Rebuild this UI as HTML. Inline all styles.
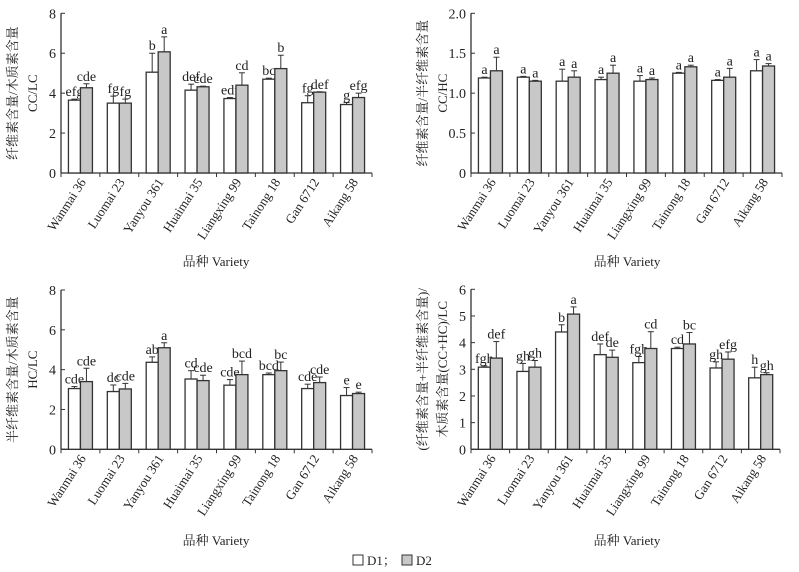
<!DOCTYPE html>
<html><head><meta charset="utf-8"><style>
html,body{margin:0;padding:0;background:#fff}
svg{display:block;font-family:"Liberation Serif","Noto Serif CJK SC","Noto Sans CJK SC",serif}
</style></head><body>
<svg id="fig" width="799" height="572" viewBox="0 0 799 572" xmlns="http://www.w3.org/2000/svg">
<text x="216" y="266" font-size="13" text-anchor="middle" fill="#222">品种 Variety</text>
<text x="627" y="266" font-size="13" text-anchor="middle" fill="#222">品种 Variety</text>
<text x="216" y="545" font-size="13" text-anchor="middle" fill="#222">品种 Variety</text>
<text x="627" y="545" font-size="13" text-anchor="middle" fill="#222">品种 Variety</text>
<g>
<rect x="353" y="555" width="10" height="10" fill="#fff" stroke="#333"/>
<text x="367" y="565" font-size="13" fill="#222">D1；</text>
<rect x="402" y="555" width="10" height="10" fill="#c8c8c8" stroke="#333"/>
<text x="416" y="565" font-size="13" fill="#222">D2</text>
</g>
</svg>
<script>
const categories=["Wanmai 36","Luomai 23","Yanyou 361","Huaimai 35","Liangxing 99","Tainong 18","Gan 6712","Aikang 58"];
const p1D1=[3.65,3.5,5.05,4.15,3.73,4.7,3.52,3.43];
const p1D1Err=[0.05,0.35,0.95,0.3,0.05,0.05,0.35,0.1];
const p1D2=[4.27,3.5,6.07,4.32,4.4,5.23,4.05,3.78];
const p1D2Err=[0.2,0.2,0.75,0.03,0.62,0.67,0.02,0.22];
const p1D1Lab=["efg","fg","b","def","edf","bc","fg","g"];
const p1D2Lab=["cde","fg","a","cde","cd","b","def","efg"];
const p1Ticks=[0,2,4,6,8];
const p2D1=[1.19,1.2,1.15,1.17,1.15,1.25,1.16,1.28];
const p2D1Err=[0.01,0.01,0.15,0.03,0.07,0.01,0.01,0.14];
const p2D2=[1.28,1.15,1.2,1.25,1.17,1.33,1.2,1.34];
const p2D2Err=[0.17,0.01,0.08,0.1,0.02,0.02,0.11,0.03];
const p2D1Lab=["a","a","a","a","a","a","a","a"];
const p2D2Lab=["a","a","a","a","a","a","a","a"];
const p2Ticks=[0,0.5,1.0,1.5,2.0];
const p2TickLabels=["0","0.5","1.0","1.5","2.0"];
const p3D1=[3.05,2.9,4.37,3.53,3.22,3.75,3.05,2.7];
const p3D1Err=[0.1,0.33,0.27,0.42,0.28,0.08,0.22,0.4];
const p3D2=[3.4,3.03,5.1,3.45,3.75,3.95,3.35,2.8];
const p3D2Err=[0.67,0.28,0.25,0.27,0.68,0.43,0.28,0.07];
const p3D1Lab=["cde","dc","ab","cd","cde","bcd","cde","e"];
const p3D2Lab=["cde","cde","a","cde","bcd","bc","cde","e"];
const p3Ticks=[0,2,4,6,8];
const p4D1=[3.08,2.92,4.4,3.55,3.25,3.78,3.05,2.68];
const p4D1Err=[0.05,0.3,0.27,0.4,0.23,0.05,0.23,0.4];
const p4D2=[3.42,3.08,5.07,3.45,3.78,3.95,3.38,2.8];
const p4D2Err=[0.62,0.25,0.27,0.27,0.63,0.43,0.27,0.07];
const p4D1Lab=["fgh","gh","b","def","fgh","cd","gh","h"];
const p4D2Lab=["def","gh","a","de","cd","bc","efg","gh"];
const p4Ticks=[0,1,2,3,4,5,6];

const NS="http://www.w3.org/2000/svg";
const svg=document.getElementById('fig');
function mk(tag,attrs,parent){const e=document.createElementNS(NS,tag);for(const k in attrs)e.setAttribute(k,attrs[k]);(parent||svg).appendChild(e);return e;}

function panel(id,x0,x1,yTop,yBot,ymax,ticks,tickLabels,d1,e1,d2,e2,l1,l2,ylab){
  const g=mk('g',{});
  
  
  const yS=v=>yBot-(v/ymax)*(yBot-yTop);
  const gw=(x1-x0)/categories.length;
  const xC=i=>x0+gw*(i+0.5);
  const bw=12;
  // axes
  const ya=mk('line',{x1:x0,y1:yTop,x2:x0,y2:yBot,stroke:'#333','stroke-width':1.3},g);
  
  
  const xa=mk('line',{x1:x0,y1:yBot,x2:x1,y2:yBot,stroke:'#333','stroke-width':1.3},g);
  
  
  ticks.forEach((t,i)=>{
    mk('line',{x1:x0,y1:yS(t),x2:x0+4,y2:yS(t),stroke:'#333','stroke-width':1},g);
    const tl=mk('text',{x:x0-5,y:yS(t)+5,'font-size':14,'text-anchor':'end',fill:'#222'},g);
    tl.textContent=tickLabels?tickLabels[i]:String(t);
    
    
  });
  for(let i=0;i<=categories.length;i++){
    mk('line',{x1:x0+gw*i,y1:yBot,x2:x0+gw*i,y2:yBot+4,stroke:'#333','stroke-width':1},g);
  }
  categories.forEach((c,i)=>{
    const cx=xC(i);
    [[d1,e1,l1,'#fff',-bw,'d1'],[d2,e2,l2,'#c8c8c8',0,'d2']].forEach(([d,e,l,f,off,s])=>{
      const bx=cx+off, v=d[i], top=yS(v), et=yS(v+e[i]);
      const r=mk('rect',{x:bx,y:top,width:bw,height:yBot-top,fill:f,stroke:'#333','stroke-width':1.3},g);
      
      
      mk('line',{x1:bx+bw/2,y1:top,x2:bx+bw/2,y2:et,stroke:'#333','stroke-width':1},g);
      mk('line',{x1:bx+bw/2-3,y1:et,x2:bx+bw/2+3,y2:et,stroke:'#333','stroke-width':1},g);
      const lt=mk('text',{x:bx+bw/2,y:et-3,'font-size':14,'text-anchor':'middle',fill:'#222'},g);
      lt.textContent=l[i];
      
      
    });
    const tx=cx+6, ty=yBot+9;
    const ct=mk('text',{x:tx,y:ty,'font-size':13,'text-anchor':'end',fill:'#222',transform:`rotate(-57 ${tx} ${ty})`},g);
    ct.textContent=c;
    
    
  });
  const cy=(yTop+yBot)/2;
  ylab.forEach((t,k)=>{
    const lx=x0-44+k*20;
    const yl=mk('text',{x:lx,y:cy,'font-size':13,'text-anchor':'middle',fill:'#222',transform:`rotate(-90 ${lx} ${cy})`},g);
    yl.textContent=t;
    
    
  });
}
panel('chart-cc-lc',61,372,13.3,173,8,p1Ticks,null,p1D1,p1D1Err,p1D2,p1D2Err,p1D1Lab,p1D2Lab,["纤维素含量/木质素含量","CC/LC"]);
panel('chart-cc-hc',471,782,13.3,173,2,p2Ticks,p2TickLabels,p2D1,p2D1Err,p2D2,p2D2Err,p2D1Lab,p2D2Lab,["纤维素含量/半纤维素含量","CC/HC"]);
panel('chart-hc-lc',61,372,290,449.3,8,p3Ticks,null,p3D1,p3D1Err,p3D2,p3D2Err,p3D1Lab,p3D2Lab,["半纤维素含量/木质素含量","HC/LC"]);
panel('chart-cchc-lc',471,780,289.3,449.3,6,p4Ticks,null,p4D1,p4D1Err,p4D2,p4D2Err,p4D1Lab,p4D2Lab,["(纤维素含量+半纤维素含量)/","木质素含量(CC+HC)/LC"]);
</script>
</body></html>
